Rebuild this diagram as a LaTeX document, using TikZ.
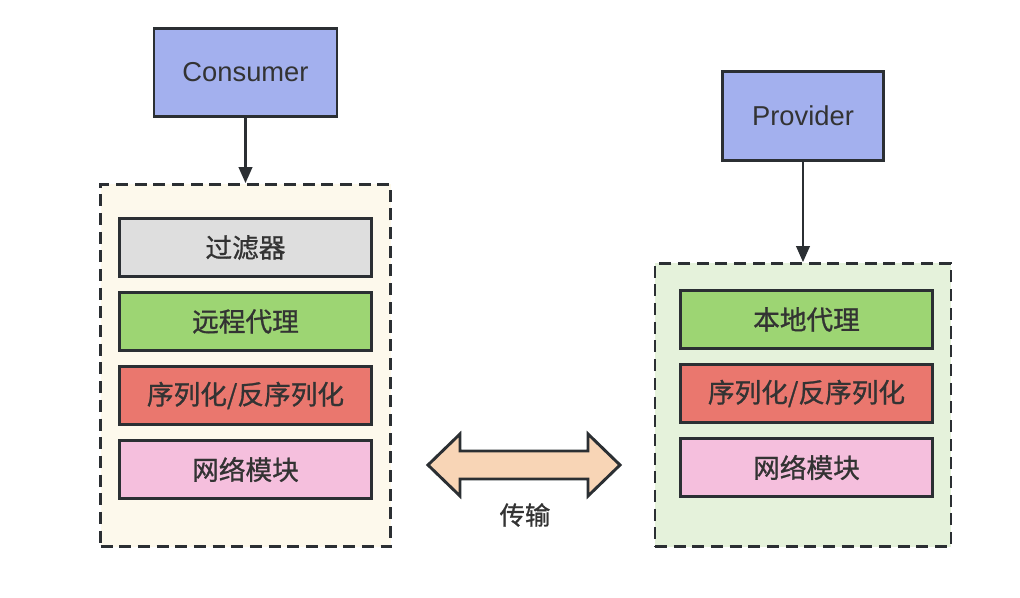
\documentclass[tikz,border=0pt]{standalone}
\usepackage{fontspec}
\setmainfont{Liberation Sans}
\newfontfamily\cjk[FakeBold=1]{Noto Sans CJK SC}
\usetikzlibrary{positioning,arrows.meta}

\definecolor{ink}{HTML}{2B2F33}
\definecolor{txt}{HTML}{333333}
\definecolor{userblue}{HTML}{A3B0EE}
\definecolor{creambg}{HTML}{FDF9EC}
\definecolor{greenbg}{HTML}{E5F2DB}
\definecolor{filtergray}{HTML}{DEDEDE}
\definecolor{proxygreen}{HTML}{9DD573}
\definecolor{serialred}{HTML}{EA776E}
\definecolor{netpink}{HTML}{F5BFDD}
\definecolor{linkpeach}{HTML}{F8D5B6}

\tikzset{
    role/.style={draw=ink,line width=2.2pt,fill=userblue,text=txt,
        font=\fontsize{20.5}{24}\selectfont},
    layer/.style={draw=ink,line width=2.2pt,text=txt,minimum width=189pt,
        minimum height=43.5pt,font=\cjk\fontsize{20}{24}\selectfont},
    container/.style={draw=ink,line width=2pt,dash pattern=on 9pt off 5pt},
    link/.style={-{Triangle[length=12pt,width=10pt]},draw=ink,line width=2pt},
}

\begin{document}
\begin{tikzpicture}[x=0.75pt,y=-0.75pt,node distance=9.8pt]
    \useasboundingbox (0,0) rectangle (1020,598);
    % consumer side
    \node[role,minimum width=137.25pt,minimum height=66pt] (consumer) at (245.5,72.5) {Consumer};
    \node[container,fill=creambg,minimum width=217.5pt,minimum height=271.5pt] (lside) at (245.5,365.5) {};
    \node[layer,fill=filtergray] (filter) at (245.5,247.5) {过滤器};
    \node[layer,fill=proxygreen,below=of filter] (rproxy) {远程代理};
    \node[layer,fill=serialred,below=of rproxy] (lserial) {序列化/反序列化};
    \node[layer,fill=netpink,below=of lserial] (lnet) {网络模块};
    \draw[link] (consumer) -- (lside);

    % provider side
    \node[role,minimum width=120.75pt,minimum height=66.75pt] (provider) at (803,116) {Provider};
    \node[container,fill=greenbg,minimum width=222pt,minimum height=212.25pt] (rside) at (803,405) {};
    \node[layer,fill=proxygreen] (lproxy) at (806.5,319.5) {本地代理};
    \node[layer,fill=serialred,below=of lproxy] (rserial) {序列化/反序列化};
    \node[layer,fill=netpink,below=of rserial] (rnet) {网络模块};
    \draw[link] (provider) -- (rside);

    % transport
    \draw[ink,line width=2.2pt,line join=miter,fill=linkpeach]
        (428,465) -- (460,434) -- (460,451) -- (588,451) -- (588,434) -- (620,465)
        -- (588,496) -- (588,479) -- (460,479) -- (460,496) -- cycle;
    \node[text=txt,font=\cjk\fontsize{19}{22}\selectfont] (linklabel) at (525,515) {传输};
\end{tikzpicture}
\end{document}
